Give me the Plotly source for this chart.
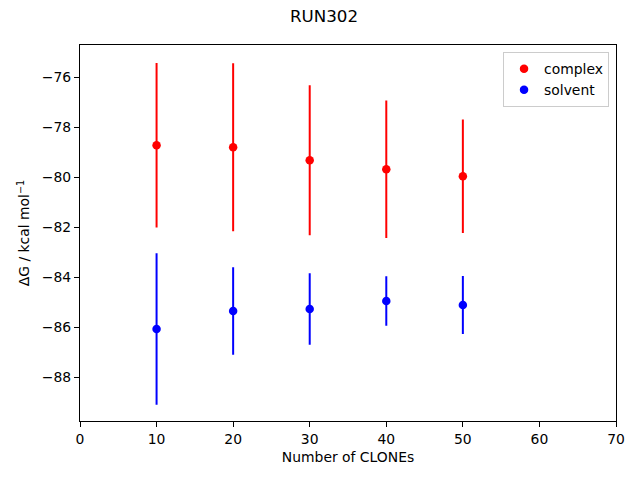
import plotly.graph_objects as go

clones = [10, 20, 30, 40, 50]
complex_dg = [-78.72, -78.80, -79.32, -79.68, -79.96]
complex_err = [3.29, 3.36, 3.00, 2.75, 2.27]
solvent_dg = [-86.07, -85.35, -85.27, -84.95, -85.11]
solvent_err = [3.03, 1.75, 1.43, 0.99, 1.16]

x_ticks = [0, 10, 20, 30, 40, 50, 60, 70]
y_ticks = [-76, -78, -80, -82, -84, -86, -88]

font_family = "DejaVu Sans"

fig = go.Figure()
fig.add_trace(go.Scatter(
    x=clones, y=complex_dg, mode="markers", name="complex",
    marker=dict(color="red", size=8.5),
    error_y=dict(type="data", array=complex_err, color="red", thickness=2, width=0, visible=True),
))
fig.add_trace(go.Scatter(
    x=clones, y=solvent_dg, mode="markers", name="solvent",
    marker=dict(color="blue", size=8.5),
    error_y=dict(type="data", array=solvent_err, color="blue", thickness=2, width=0, visible=True),
))

axis_common = dict(
    showgrid=False, zeroline=False, showline=True, linecolor="black", linewidth=1.1,
    mirror=True, ticks="outside", ticklen=5, tickwidth=1.1, tickcolor="black",
    tickfont=dict(family=font_family, size=13.9, color="black"), automargin=False,
)

# page body has an 8px default margin, so the figure is offset by 8px
W, H = 632, 472
fig.update_layout(
    width=W, height=H,
    margin=dict(l=72, r=24, t=37, b=58.5),
    paper_bgcolor="white", plot_bgcolor="white",
    font=dict(family=font_family, size=13.9, color="black"),
    title=dict(text="RUN302", x=316 / W - 0.0, xanchor="center", y=1 - 8.5 / H, yanchor="middle",
               font=dict(family=font_family, size=16.7, color="black"), automargin=False),
    xaxis=dict(range=[0, 70], tickvals=x_ticks, ticktext=[str(v) for v in x_ticks],
               title=dict(text="Number of CLONEs", standoff=6,
                          font=dict(family=font_family, size=13.9)), **axis_common),
    yaxis=dict(range=[-89.75, -74.71], tickvals=y_ticks, ticktext=["\u2212" + str(abs(v)) for v in y_ticks],
               title=dict(text="\u0394G / kcal mol<sup>\u22121</sup>", standoff=8,
                          font=dict(family=font_family, size=13.9)), **axis_common),
    legend=dict(x=0.987, y=0.981, xanchor="right", yanchor="top",
                bordercolor="#cccccc", borderwidth=1, bgcolor="rgba(255,255,255,0.8)",
                font=dict(family=font_family, size=13.9), itemwidth=30),
    showlegend=True,
)

fig.write_html("out.html")
